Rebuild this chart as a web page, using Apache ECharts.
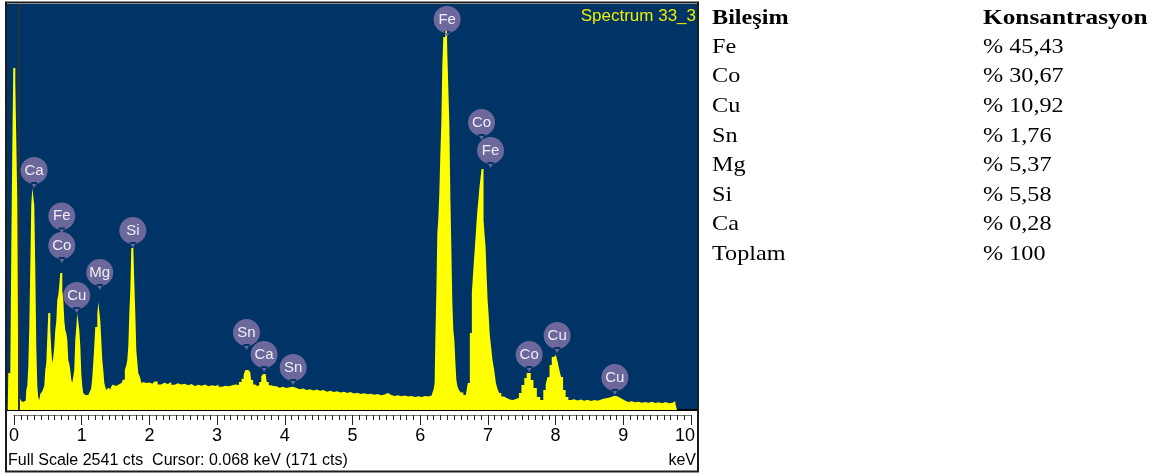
<!DOCTYPE html>
<html>
<head>
<meta charset="utf-8">
<title>EDS Spectrum 33_3</title>
<script src="https://cdn.jsdelivr.net/npm/echarts@6/dist/echarts.min.js"></script>
<style>
  html, body { margin: 0; padding: 0; background: #ffffff; }
  #chart { width: 1165px; height: 476px; }
</style>
</head>
<body>
<div id="chart"></div>
<script>
// Energy channels (keV) and their counts for the EDS spectrum
const energy = [
  -0.089, -0.074, -0.059, -0.044, -0.030, -0.015, 0.000, 0.015, 0.030, 0.044, 0.059, 0.074, 0.089, 0.103, 0.118, 0.133, 0.148, 0.162,
  0.177, 0.192, 0.207, 0.222, 0.236, 0.251, 0.266, 0.281, 0.295, 0.310, 0.325, 0.340, 0.355, 0.369, 0.384,
  0.399, 0.414, 0.428, 0.443, 0.458, 0.473, 0.487, 0.502, 0.517, 0.532, 0.547, 0.561, 0.576, 0.591, 0.606, 0.620,
  0.635, 0.650, 0.665, 0.679, 0.694, 0.709, 0.724, 0.739, 0.753, 0.768, 0.783, 0.798, 0.812, 0.827, 0.842, 0.857,
  0.872, 0.886, 0.901, 0.916, 0.931, 0.945, 0.960, 0.975, 0.990, 1.004, 1.019, 1.034, 1.049, 1.064, 1.078, 1.093,
  1.108, 1.123, 1.137, 1.152, 1.167, 1.182, 1.196, 1.211, 1.226, 1.241, 1.256, 1.270, 1.285, 1.300, 1.315, 1.329,
  1.344, 1.359, 1.374, 1.388, 1.403, 1.418, 1.448, 1.477, 1.507, 1.536, 1.566, 1.595, 1.625, 1.655, 1.669, 1.684,
  1.699, 1.714, 1.728, 1.743, 1.758, 1.773, 1.787, 1.802, 1.817, 1.832, 1.846, 1.861, 1.876, 1.891, 1.920, 1.950,
  2.00, 2.05, 2.10, 2.15, 2.20, 2.25, 2.30, 2.35, 2.40, 2.45, 2.50, 2.55, 2.60, 2.65, 2.70, 2.75, 2.80, 2.85, 2.90,
  2.95, 3.00, 3.05, 3.10, 3.15, 3.20, 3.25, 3.30, 3.35, 3.38, 3.41, 3.43, 3.46, 3.49, 3.52, 3.55, 3.58, 3.61, 3.64,
  3.67, 3.69, 3.72, 3.75, 3.78, 3.82, 3.86, 3.90, 3.95, 4.00, 4.05, 4.10, 4.15, 4.20, 4.25, 4.30, 4.35, 4.40, 4.45,
  4.50, 4.55, 4.60, 4.65, 4.70, 4.75, 4.80, 4.85, 4.90, 4.95, 5.00, 5.05, 5.10, 5.15, 5.20, 5.25, 5.30, 5.35, 5.40,
  5.45, 5.50, 5.55, 5.60, 5.65, 5.70, 5.75, 5.80, 5.85, 5.90, 5.95, 6.00, 6.05, 6.10, 6.15,
  6.19, 6.21, 6.22, 6.233, 6.248, 6.263, 6.277, 6.292, 6.307, 6.322, 6.336, 6.351, 6.366, 6.381, 6.396, 6.411, 6.425,
  6.440, 6.455, 6.470, 6.484, 6.499, 6.514, 6.529, 6.544, 6.558, 6.588, 6.617, 6.662,
  6.69, 6.72, 6.75, 6.78, 6.80, 6.82, 6.84, 6.855, 6.87, 6.885, 6.90, 6.915, 6.93, 6.945, 6.96, 6.975, 6.99, 7.005,
  7.02, 7.035, 7.06, 7.08, 7.11, 7.13, 7.16, 7.18, 7.22, 7.26,
  7.30, 7.35, 7.40, 7.445, 7.475, 7.52, 7.56, 7.59, 7.62, 7.65, 7.70, 7.75, 7.80, 7.84, 7.87, 7.895, 7.93, 7.96, 7.99,
  8.02, 8.045, 8.07, 8.095, 8.13, 8.17, 8.21, 8.25, 8.30, 8.35, 8.40, 8.45, 8.50, 8.55, 8.60, 8.65, 8.70, 8.75, 8.80,
  8.84, 8.88, 8.92, 8.96, 9.00, 9.05, 9.10, 9.15, 9.20, 9.25, 9.30, 9.35, 9.40, 9.45, 9.50, 9.55, 9.60, 9.65, 9.70,
  9.75, 9.79, 9.80
];
const counts = [
  0, 232, 232, 232, 983, 1600, 2141, 2141, 2053, 2053, 1327, 171, 81, 81, 56, 50, 50, 56,
  60, 125, 150, 270, 520, 889, 1283, 1390, 1390, 1283, 889, 400, 150, 80, 63,
  100, 106, 118, 125, 150, 250, 294, 300, 607, 607, 500, 380, 294, 330, 400, 500,
  550, 689, 720, 780, 857, 857, 750, 689, 560, 500, 480, 440, 313, 290, 250, 190,
  170, 170, 250, 438, 520, 607, 607, 500, 400, 232, 150, 106, 94, 94, 94, 94,
  100, 106, 120, 140, 200, 300, 400, 520, 520, 600, 676, 676, 560, 440, 313, 250,
  170, 144, 125, 125, 140, 130, 144, 160, 150, 160, 156, 170, 190, 250, 280, 313,
  400, 607, 750, 1014, 1014, 1014, 800, 607, 376, 300, 232, 232, 200, 169, 175, 169,
  172, 165, 178, 160, 170, 163, 175, 158, 168, 160, 165, 155, 162, 150, 158, 152, 160, 148, 155,
  150, 158, 145, 152, 148, 155, 160, 156, 175, 195, 220, 250, 250, 240, 188, 160, 150, 155, 175,
  210, 225, 225, 175, 155, 150, 148, 140, 145, 138, 142, 145, 138, 130, 135, 125, 130, 122, 128,
  120, 125, 115, 120, 112, 118, 110, 114, 106, 112, 104, 108, 100, 105, 98, 102, 95, 100, 92,
  97, 106, 94, 88, 92, 86, 90, 84, 88, 82, 86, 82, 88, 85, 90,
  90, 130, 169, 450, 732, 1108, 1200, 1358, 1600, 1796, 2160, 2335, 2335, 2400, 2541, 2222, 2222,
  1796, 1333, 1000, 670, 500, 438, 300, 188, 150, 125, 110, 94,
  94, 169, 482, 732, 900, 1020, 1150, 1252, 1320, 1396, 1450, 1508, 1508, 1190, 1100, 1020, 850, 689,
  600, 482, 400, 313, 250, 169, 130, 106, 85, 75,
  66, 63, 70, 75, 106, 156, 200, 232, 232, 188, 138, 81, 63, 125, 160, 207, 282, 332, 344,
  344, 300, 250, 207, 125, 81, 63, 68, 60, 66, 58, 64, 56, 62, 58, 66, 72, 75, 82,
  88, 88, 80, 70, 60, 50, 55, 48, 52, 46, 50, 45, 52, 44, 48, 43, 50, 42, 46,
  55, 40, 0
];

// Element markers: name, energy (keV) and count level where the pin points
const peakNames  = ['Ca', 'Fe', 'Co', 'Cu', 'Mg', 'Si', 'Sn', 'Ca', 'Sn', 'Fe', 'Co', 'Fe', 'Co', 'Cu', 'Cu'];
const peakEnergy = [0.30, 0.709, 0.709, 0.93, 1.27, 1.758, 3.437, 3.697, 4.126, 6.40, 6.908, 7.041, 7.611, 8.025, 8.877];
const peakCounts = [1390, 1104, 920, 607, 751, 1014, 376, 238, 156, 2335, 1690, 1515, 238, 357, 94];

// Acquisition details
const spectrumName = 'Spectrum 33_3';
const fullScale = 2541;
const cursorEnergy = 0.068;
const cursorCounts = 171;

// Quantification table
const tableHeaders = ['Bileşim', 'Konsantrasyon'];
const compounds = ['Fe', 'Co', 'Cu', 'Sn', 'Mg', 'Si', 'Ca', 'Toplam'];
const concentrations = ['% 45,43', '% 30,67', '% 10,92', '% 1,76', '% 5,37', '% 5,58', '% 0,28', '% 100'];

// Axis ticks (keV)
const majorTicks = [0, 1, 2, 3, 4, 5, 6, 7, 8, 9, 10];

const sans = '"Liberation Sans", Arial, sans-serif';
const serif = '"Liberation Serif", "Times New Roman", serif';

const spectrumData = energy.map((e, i) => [e, counts[i]]);
const pins = peakNames.map((n, i) => ({ name: n, coord: [peakEnergy[i], peakCounts[i]] }));

// Balloon marker: circle with a short pointer underneath
const pinPath = 'path://M0,13.5 A13.5,13.5 0 1 1 27,13.5 A13.5,13.5 0 1 1 0,13.5 Z M10,25 L13.5,31 L17,25 Z';

const graphics = [
  { type: 'rect', z: 100, shape: { x: 6, y: 2.5, width: 692, height: 469 },
    style: { fill: 'none', stroke: '#1c1c1c', lineWidth: 2 } },
  { type: 'text', z: 100, x: 696, y: 16,
    style: { text: spectrumName, fill: '#eeee00', font: '17px ' + sans, textAlign: 'right', textVerticalAlign: 'middle' } },
  { type: 'text', z: 100, x: 8, y: 461,
    style: { text: 'Full Scale ' + fullScale + ' cts  Cursor: ' + cursorEnergy.toFixed(3) + ' keV (' + cursorCounts + ' cts)',
      fill: '#000', font: '16px ' + sans, textAlign: 'left', textVerticalAlign: 'middle' } },
  { type: 'text', z: 100, x: 696, y: 461,
    style: { text: 'keV', fill: '#000', font: '16px ' + sans, textAlign: 'right', textVerticalAlign: 'middle' } }
];

// Table on the right
const col1 = 712, col2 = 983, headY = 18, rowY0 = 47, rowStep = 29.6;
graphics.push({ type: 'text', x: col1, y: headY, scaleX: 1.1,
  style: { text: tableHeaders[0], fill: '#000', font: 'bold 22px ' + serif, textAlign: 'left', textVerticalAlign: 'middle' } });
graphics.push({ type: 'text', x: col2, y: headY, scaleX: 1.15,
  style: { text: tableHeaders[1], fill: '#000', font: 'bold 22px ' + serif, textAlign: 'left', textVerticalAlign: 'middle' } });
compounds.forEach((c, i) => {
  graphics.push({ type: 'text', x: col1, y: rowY0 + i * rowStep, scaleX: 1.1,
    style: { text: c, fill: '#000', font: '22px ' + serif, textAlign: 'left', textVerticalAlign: 'middle' } });
  graphics.push({ type: 'text', x: col2, y: rowY0 + i * rowStep, scaleX: 1.1,
    style: { text: concentrations[i], fill: '#000', font: '22px ' + serif, textAlign: 'left', textVerticalAlign: 'middle' } });
});

const chart = echarts.init(document.getElementById('chart'), null, { renderer: 'canvas' });
chart.setOption({
  animation: false,
  backgroundColor: '#ffffff',
  grid: [
    { left: 7, width: 690, top: 4, height: 406, show: true, backgroundColor: '#003366', borderWidth: 0 },
    { left: 14, width: 677, top: 414, height: 1, show: false }
  ],
  xAxis: [
    { gridIndex: 0, type: 'value', min: -0.1, max: 10.09,
      axisLine: { show: true, onZero: false, lineStyle: { color: '#000', width: 2 } },
      axisTick: { show: false }, axisLabel: { show: false }, splitLine: { show: false } },
    { gridIndex: 1, type: 'value', min: 0, max: 10, interval: 1, position: 'bottom',
      axisLine: { show: true, onZero: false, lineStyle: { color: '#777', width: 1 } },
      axisTick: { show: true, length: 10, lineStyle: { color: '#222', width: 1 } },
      minorTick: { show: true, splitNumber: 10, length: 5, lineStyle: { color: '#222', width: 1 } },
      axisLabel: { show: true, margin: 12, fontSize: 18, fontFamily: sans, color: '#000',
        customValues: majorTicks,
        formatter: v => (v === 10 ? '{last|10}' : String(v)),
        rich: { last: { fontSize: 18, fontFamily: sans, color: '#000', padding: [0, 12, 0, 0] } } },
      splitLine: { show: false } }
  ],
  yAxis: [
    { gridIndex: 0, type: 'value', min: 0, max: fullScale, show: false, splitLine: { show: false } },
    { gridIndex: 1, type: 'value', min: 0, max: 1, show: false, splitLine: { show: false } }
  ],
  series: [{
    type: 'line',
    xAxisIndex: 0, yAxisIndex: 0,
    data: spectrumData,
    step: 'middle',
    symbol: 'none',
    lineStyle: { width: 0, color: '#ffff00' },
    areaStyle: { color: '#ffff00', opacity: 1 },
    silent: true,
    markLine: {
      silent: true, symbol: ['none', 'none'],
      lineStyle: { color: '#28323e', width: 2, type: 'solid' },
      label: { show: false },
      data: [{ xAxis: cursorEnergy }]
    },
    markPoint: {
      silent: true,
      symbol: pinPath,
      symbolSize: [27, 31],
      symbolOffset: [0, '-50%'],
      itemStyle: { color: '#6c689c' },
      label: { show: true, formatter: '{b}', color: '#eeeef6', fontSize: 15, fontFamily: sans, offset: [0, -2] },
      data: pins
    }
  }],
  graphic: graphics
});
</script>
</body>
</html>
